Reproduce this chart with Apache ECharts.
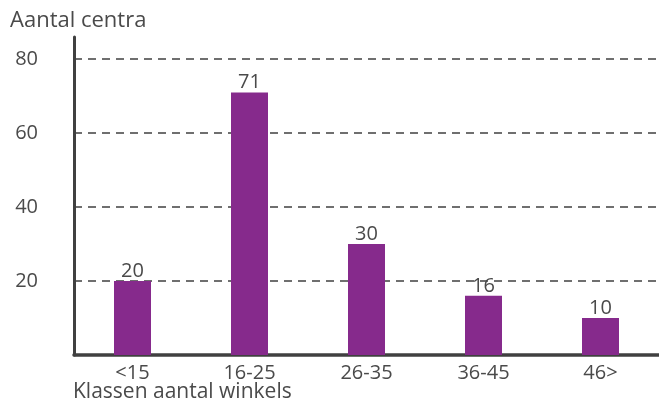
<!DOCTYPE html>
<html>
<head>
<meta charset="utf-8">
<script src="https://cdn.jsdelivr.net/npm/echarts@6/dist/echarts.min.js"></script>
<style>
  html, body { margin: 0; padding: 0; background: #fff; }
  #chart { width: 659px; height: 401px; }
</style>
</head>
<body>
<div id="chart"></div>
<script>
const categories = ['<15', '16-25', '26-35', '36-45', '46>'];
const centraCounts = [20, 71, 30, 16, 10];
const yTicks = [20, 40, 60, 80];

const textColor = '#4a4a4a';
const axisColor = '#404040';
const font = '"Open Sans", "Noto Sans", sans-serif';

const chart = echarts.init(document.getElementById('chart'), null, { renderer: 'canvas' });

chart.setOption({
  animation: false,
  textStyle: { fontFamily: font },
  grid: { left: 74, right: 0, top: 37, bottom: 46 },
  graphic: [
    {
      type: 'text',
      left: 10,
      top: 10,
      style: { text: 'Aantal centra', fontSize: 22, fill: textColor, fontFamily: font }
    },
    {
      type: 'text',
      left: 73,
      top: 382,
      style: { text: 'Klassen aantal winkels', fontSize: 21, fill: textColor, fontFamily: font }
    }
  ],
  xAxis: {
    type: 'category',
    data: categories,
    axisLine: { lineStyle: { color: axisColor, width: 3.5 } },
    axisTick: { show: false },
    axisLabel: { color: textColor, fontSize: 20, margin: 8, fontFamily: font }
  },
  yAxis: {
    type: 'value',
    min: 0,
    max: 86,
    interval: 20,
    axisLine: { show: true, lineStyle: { color: axisColor, width: 3 } },
    axisTick: { show: false },
    axisLabel: {
      color: textColor,
      fontSize: 20,
      margin: 36,
      fontFamily: font,
      formatter: (v) => (yTicks.includes(v) ? String(v) : '')
    },
    splitLine: {
      showMinLine: false,
      showMaxLine: false,
      lineStyle: { color: axisColor, type: [8, 6], width: 1.6 }
    }
  },
  series: [
    {
      type: 'bar',
      data: centraCounts,
      barWidth: 37,
      itemStyle: { color: '#862a8c' },
      label: {
        show: true,
        position: 'top',
        distance: 0,
        color: textColor,
        fontSize: 20,
        fontFamily: font
      }
    }
  ]
});
</script>
</body>
</html>
